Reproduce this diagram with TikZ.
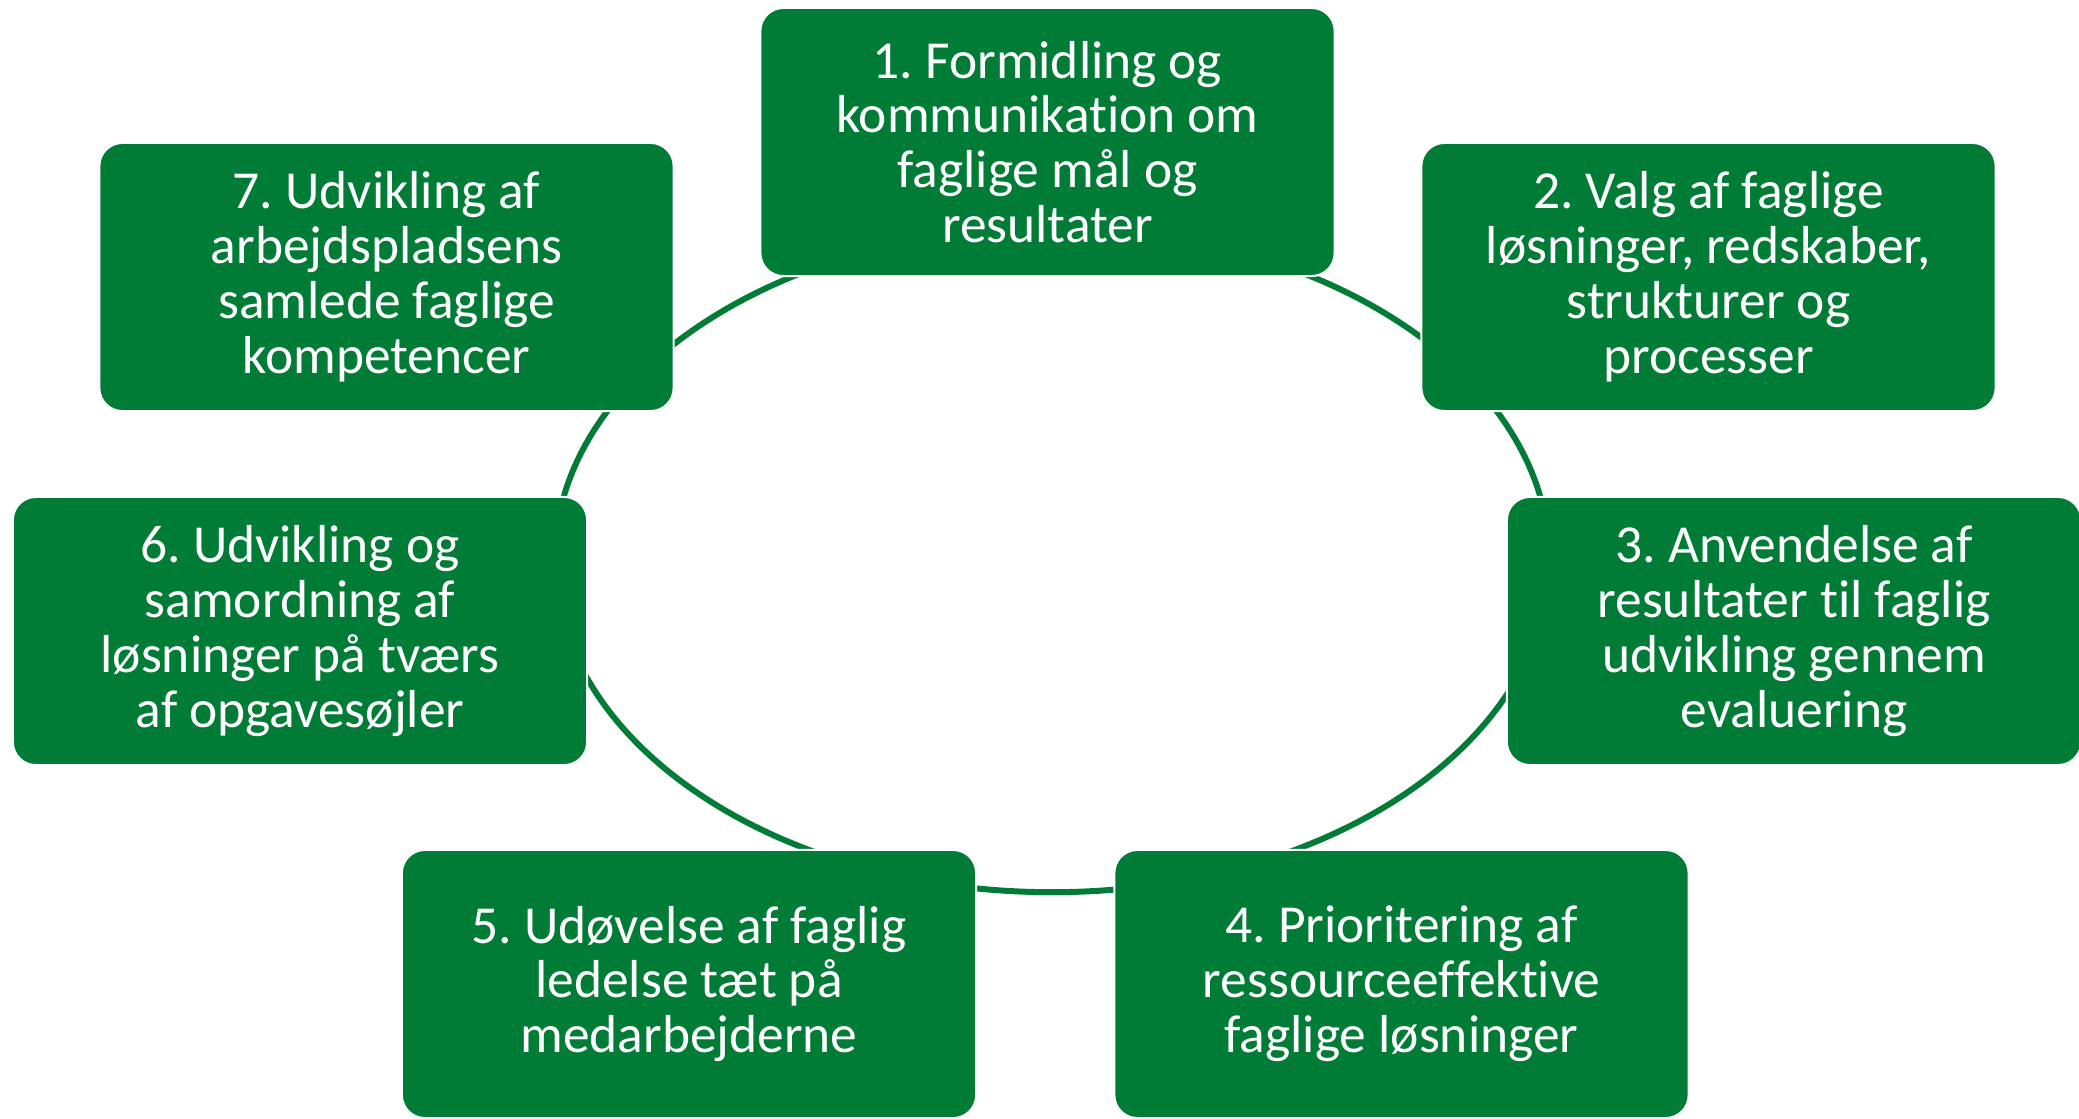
\documentclass[tikz,border=0pt]{standalone}
\usepackage{fontspec}
\setmainfont{Carlito}[Ligatures=NoCommon]
\frenchspacing
\definecolor{boxgreen}{HTML}{007C36}
\begin{document}
\begin{tikzpicture}[x=0.01cm,y=-0.01cm,
  stepbox/.style={rectangle, rounded corners=0.23cm, fill=boxgreen, draw=white, line width=0.6pt,
    minimum width=5.74cm, minimum height=2.68cm, inner sep=0pt, align=center, text=white,
    font=\fontsize{15.2pt}{15.6pt}\selectfont},
  ring/.style={draw=boxgreen, line width=1.7pt}]
\useasboundingbox (0,0) rectangle (2079,1118);
\coordinate (c) at (1052,560);
\draw[ring] (c) ellipse [x radius=4.97cm, y radius=3.32cm];
\node[stepbox] (b1) at (1047.5,142) {1. Formidling og\\kommunikation om\\faglige mål og\\resultater};
\node[stepbox] (b2) at (1708.5,277) {2. Valg af faglige\\løsninger, redskaber,\\strukturer og\\processer};
\node[stepbox] (b3) at (1794,631) {3. Anvendelse af\\resultater til faglig\\udvikling gennem\\evaluering};
\node[stepbox] (b4) at (1401.5,984) {4. Prioritering af\\ressourceeffektive\\faglige løsninger};
\node[stepbox] (b5) at (689,984) {5. Udøvelse af faglig\\ledelse tæt på\\medarbejderne};
\node[stepbox] (b6) at (300,631) {6. Udvikling og\\samordning af\\løsninger på tværs\\af opgavesøjler};
\node[stepbox] (b7) at (386.5,277) {7. Udvikling af\\arbejdspladsens\\samlede faglige\\kompetencer};
\end{tikzpicture}
\end{document}
